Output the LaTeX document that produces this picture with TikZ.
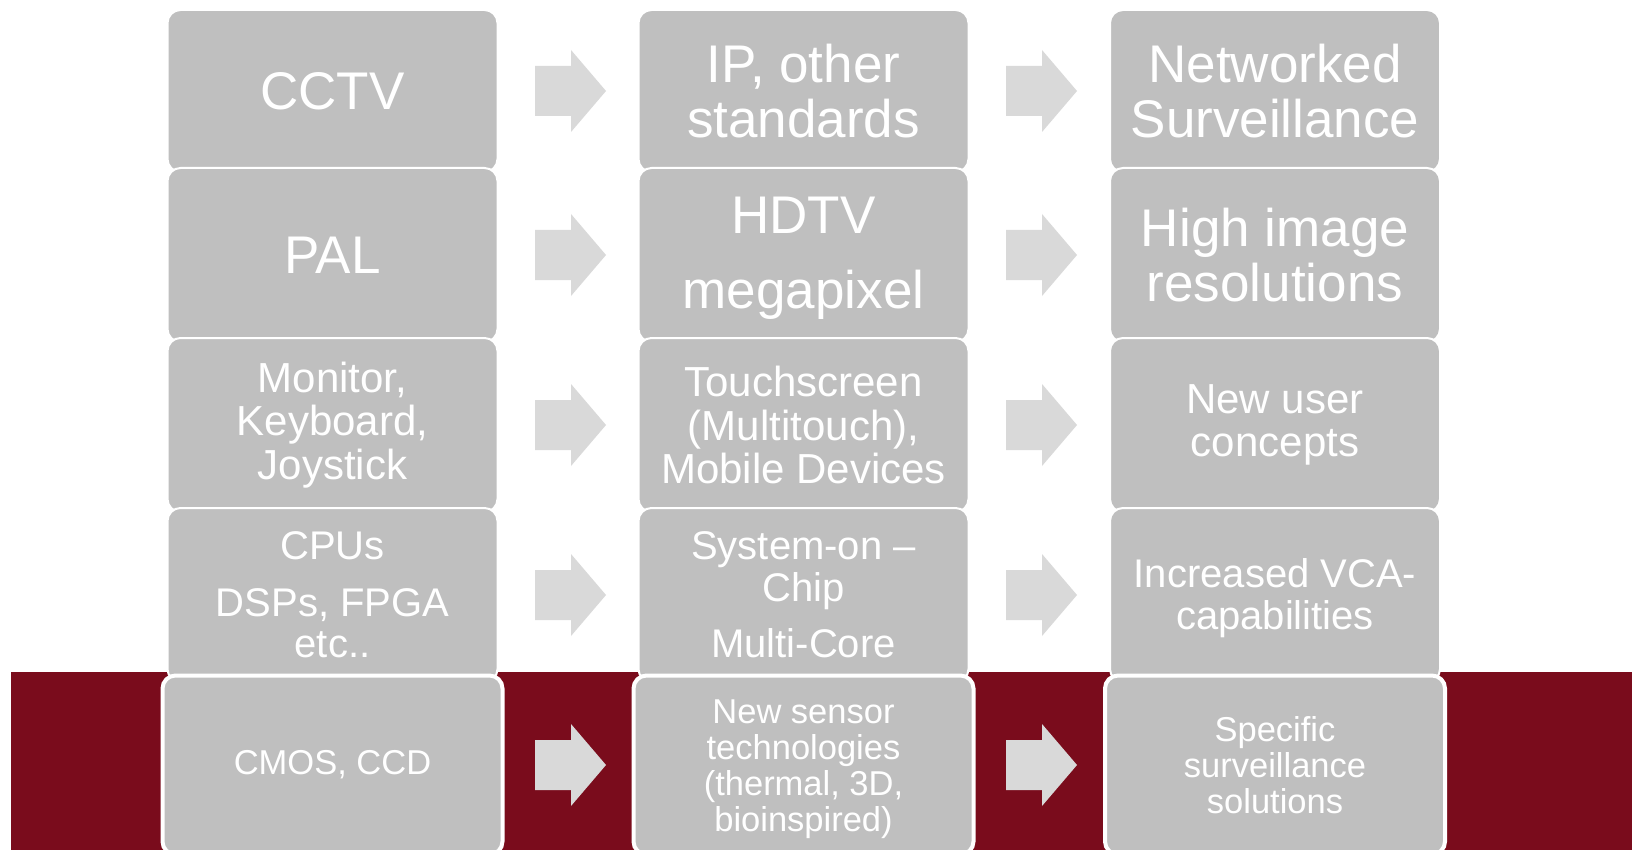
\documentclass[tikz,border=0pt]{standalone}
\usepackage{fontspec}
\setmainfont{Liberation Sans}
\definecolor{boxgray}{RGB}{191,191,191}
\definecolor{arrowgray}{RGB}{217,217,217}
\definecolor{bandred}{RGB}{122,12,28}
\tikzset{
  box/.style={rounded corners=13pt, fill=boxgray, draw=white, line width=2pt,
    text=white, align=center, inner sep=0pt, minimum width=330pt},
  rowa/.style={box, minimum height=162pt, font=\fontsize{53pt}{55pt}\selectfont},
  rowb/.style={box, minimum height=174pt, font=\fontsize{53pt}{55pt}\selectfont},
  rowc/.style={box, minimum height=174pt, font=\fontsize{42pt}{43.7pt}\selectfont},
  rowd/.style={box, minimum height=174pt, font=\fontsize{40pt}{41.6pt}\selectfont},
  rowe/.style={box, minimum height=179pt, minimum width=340pt, line width=4pt,
    font=\fontsize{34.5pt}{36pt}\selectfont},
  lbl/.style={text=white, align=center, inner sep=0pt},
  blockarrow/.pic={\fill[arrowgray] (-35.5,-25) -- (0.5,-25) -- (0.5,-41) -- (35.5,0)
     -- (0.5,41) -- (0.5,25) -- (-35.5,25) -- cycle;}
}
\begin{document}
\begin{tikzpicture}[x=1pt,y=-1pt]
\useasboundingbox (0,0) rectangle (1632,850);
\fill[white] (0,0) rectangle (1632,850);
\fill[bandred] (11,672) rectangle (1632,850);
% row 1
\node[rowa] (c11) at (332.5,91) {CCTV};
\node[rowa] (c12) at (803.5,91) {IP, other\\standards};
\node[rowa] (c13) at (1275,91) {Networked\\Surveillance};
% row 2
\node[rowb] (c21) at (332.5,255) {PAL};
\node[rowb] (c22) at (803.5,255) {};
\node[lbl, font=\fontsize{53pt}{55pt}\selectfont] (t22) at (803.5,258) {HDTV\\[20pt]megapixel};
\node[rowb] (c23) at (1275,255) {High image\\resolutions};
% row 3
\node[rowc] (c31) at (332.5,425) {Monitor,\\Keyboard,\\Joystick};
\node[rowc] (c32) at (803.5,425) {Touchscreen\\(Multitouch),\\Mobile Devices};
\node[rowc] (c33) at (1275,425) {New user\\concepts};
% row 4
\node[rowd] (c41) at (332.5,595) {CPUs\\[15pt]DSPs, FPGA\\etc..};
\node[rowd] (c42) at (803.5,595) {System-on –\\Chip\\[15pt]Multi-Core};
\node[rowd] (c43) at (1275,595) {};
\node[lbl, font=\fontsize{40pt}{41.6pt}\selectfont] (t43) at (1275,598) {Increased VCA-\\capabilities};
% row 5
\node[rowe] (c51) at (332.5,765) {CMOS, CCD};
\node[rowe] (c52) at (803.5,765) {};
\node[lbl, font=\fontsize{34.5pt}{36pt}\selectfont] (t52) at (803.5,769) {New sensor\\technologies\\(thermal, 3D,\\bioinspired)};
\node[rowe] (c53) at (1275,765) {Specific\\surveillance\\solutions};
% arrows
\foreach \r/\y in {1/91,2/255,3/425,4/595,5/765}{
  \pic (a\r1) at (570.5,\y) {blockarrow};
  \pic (a\r2) at (1041.5,\y) {blockarrow};
}
\end{tikzpicture}
\end{document}
